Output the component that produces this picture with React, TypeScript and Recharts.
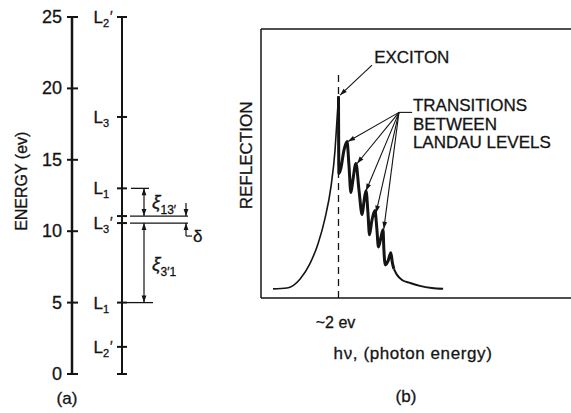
import React from 'react';
import {
  ComposedChart,
  LineChart,
  Line,
  Scatter,
  XAxis,
  YAxis,
  ReferenceLine,
  ReferenceDot,
} from 'recharts';

const FONT = '"Liberation Sans", Arial, sans-serif';
const INK = '#141414';

// (a) energy levels at L, in eV
const energyTicks = [0, 5, 10, 15, 20, 25];
const levelEnergies = [25, 18, 13, 11.06, 10.57, 5, 1.9, 0];
const levelLabels = ["L2'", 'L3', 'L1', '', "L3'", 'L1', "L2'", ''];
const gap13 = [13, 11.06];
const gap31 = [10.57, 5];

// (b) reflection against photon energy, arbitrary units (~2 ev sits at x = 2)
const riseX = [0.31, 0.67, 1.01, 1.26, 1.47, 1.65, 1.81, 1.91, 1.96, 2.0];
const riseY = [0.034, 0.037, 0.071, 0.127, 0.201, 0.295, 0.418, 0.549, 0.66, 0.75];
const wiggleX = [2.0, 2.01, 2.06, 2.14, 2.22, 2.27, 2.32, 2.37, 2.45, 2.53, 2.61, 2.66, 2.71, 2.76, 2.8, 2.86, 2.94, 2.99, 3.03, 3.1, 3.15, 3.17, 3.21, 3.28, 3.35, 3.39, 3.43];
const wiggleY = [0.75, 0.463, 0.481, 0.549, 0.582, 0.493, 0.392, 0.437, 0.5, 0.399, 0.31, 0.362, 0.399, 0.317, 0.235, 0.287, 0.325, 0.257, 0.19, 0.228, 0.254, 0.183, 0.123, 0.138, 0.168, 0.131, 0.108];
const tailX = [3.43, 3.51, 3.64, 3.85, 4.1, 4.41, 4.7];
const tailY = [0.108, 0.086, 0.067, 0.056, 0.045, 0.037, 0.034];
const photonTicks = [2];
const excitonTip = { x: 2.04, y: 0.754 };
const landauTipX = [2.245, 2.48, 2.71, 2.97, 3.17];
const landauTipY = [0.582, 0.5, 0.399, 0.317, 0.257];
const landauText = ['TRANSITIONS', 'BETWEEN', 'LANDAU LEVELS'];

const toPts = (xs: number[], ys: number[]) => xs.map((x, i) => ({ x, y: ys[i] }));
const rise = toPts(riseX, riseY);
const wiggle = toPts(wiggleX, wiggleY);
const tail = toPts(tailX, tailY);

// layout of the schematic in panel (a), x units = px right of the energy axis
const LADDER = 50;
const GAP_X = 72;
const SIDE_X = 114;

const levels = levelEnergies.map((e, i) => ({ x: LADDER, y: e, label: levelLabels[i] }));

function head(tx: number, ty: number, fx: number, fy: number, len = 7, half = 2.4) {
  const d = Math.hypot(tx - fx, ty - fy) || 1;
  const ux = (tx - fx) / d;
  const uy = (ty - fy) / d;
  const bx = tx - ux * len;
  const by = ty - uy * len;
  return (
    <polygon
      points={`${tx},${ty} ${bx - uy * half},${by + ux * half} ${bx + uy * half},${by - ux * half}`}
      fill={INK}
    />
  );
}

const arrow = (both = false, w = 1.2) => (p: any) => (
  <g>
    <line x1={p.x1} y1={p.y1} x2={p.x2} y2={p.y2} stroke={INK} strokeWidth={w} />
    {head(p.x2, p.y2, p.x1, p.y1)}
    {both && head(p.x1, p.y1, p.x2, p.y2)}
  </g>
);

const txt = { fontFamily: FONT, fill: INK, stroke: INK, strokeWidth: 0.3 };

function EnergyTick(props: any) {
  const { x, y, payload } = props;
  return (
    <g>
      <line x1={x - 5} x2={x + 6} y1={y} y2={y} stroke={INK} strokeWidth={2} />
      <text x={x - 10} y={y + 6} textAnchor="end" fontSize={18} {...txt}>
        {payload.value}
      </text>
    </g>
  );
}

function energyLabel(props: any) {
  const { x, y, width, height } = props.viewBox;
  const cy = y + height * 0.46;
  return (
    <g>
      <text x={22} y={cy} transform={`rotate(-90 22 ${cy})`} textAnchor="middle" dominantBaseline="central" fontSize={16} {...txt}>
        ENERGY (ev)
      </text>
      <text x={x + width - 5} y={y + height + 30} textAnchor="middle" fontSize={17} {...txt}>
        (a)
      </text>
    </g>
  );
}

// level tick on the ladder plus its L label
function LevelMark(p: any) {
  const { cx, cy, payload } = p;
  const label: string = payload.label;
  const prime = label.endsWith("'");
  return (
    <g>
      <line x1={cx - 5} x2={cx + 5} y1={cy} y2={cy} stroke={INK} strokeWidth={2} />
      {label && (
        <text x={cx - 13} y={cy + 6} textAnchor="end" fontSize={17} {...txt}>
          L<tspan fontSize={11} dy={4}>{label[1]}</tspan>
        </text>
      )}
      {prime && (
        <text x={cx - 12} y={cy + 4} fontSize={14} {...txt}>
          ′
        </text>
      )}
    </g>
  );
}

function PhotonTick(props: any) {
  const { x, y } = props;
  return (
    <text x={x - 3} y={y + 30} textAnchor="middle" fontSize={16} {...txt}>
      ~2 ev
    </text>
  );
}

function photonLabel(props: any) {
  const { x, y } = props.viewBox;
  return (
    <g>
      <text x={x + 152} y={y + 61} textAnchor="middle" fontSize={17} letterSpacing={0.6} {...txt}>
        hν, (photon energy)
      </text>
      <text x={x + 145} y={y + 104} textAnchor="middle" fontSize={17} {...txt}>
        (b)
      </text>
    </g>
  );
}

function reflectionLabel(props: any) {
  const { x, y, width, height } = props.viewBox;
  const cx = x + width - 14;
  const cy = y + height * 0.47;
  return (
    <text x={cx} y={cy} transform={`rotate(-90 ${cx} ${cy})`} textAnchor="middle" dominantBaseline="central" fontSize={17} {...txt}>
      REFLECTION
    </text>
  );
}

export default function App() {
  return (
    <div style={{ position: 'absolute', left: 0, top: 0, width: 571, height: 413, background: '#fff' }}>
      <div style={{ position: 'absolute', left: 0, top: 0 }}>
        <ComposedChart width={210} height={413} data={levels} margin={{ top: 17, right: 8, bottom: 39, left: 0 }}>
          <XAxis type="number" dataKey="x" domain={[0, 130]} hide />
          <YAxis
            type="number"
            dataKey="y"
            domain={[0, 25]}
            ticks={energyTicks}
            interval={0}
            width={72}
            tickSize={0}
            tickMargin={0}
            tickLine={false}
            axisLine={{ stroke: INK, strokeWidth: 2.5 }}
            tick={EnergyTick}
            label={energyLabel}
          />
          <ReferenceLine segment={[{ x: LADDER, y: 0 }, { x: LADDER, y: 25 }]} stroke={INK} strokeWidth={2} />
          <Scatter data={levels} dataKey="y" shape={LevelMark} isAnimationActive={false} />
          <ReferenceLine segment={[{ x: 59, y: gap13[0] }, { x: 77, y: gap13[0] }]} stroke={INK} strokeWidth={1.3} />
          <ReferenceLine segment={[{ x: 58, y: gap13[1] }, { x: 116, y: gap13[1] }]} stroke={INK} strokeWidth={1.3} />
          <ReferenceLine segment={[{ x: 58, y: gap31[0] }, { x: 116, y: gap31[0] }]} stroke={INK} strokeWidth={1.3} />
          <ReferenceLine segment={[{ x: 55, y: gap31[1] }, { x: 81, y: gap31[1] }]} stroke={INK} strokeWidth={1.3} />
          <ReferenceLine segment={[{ x: GAP_X, y: gap13[0] }, { x: GAP_X, y: gap13[1] }]} shape={arrow(true)} />
          <ReferenceLine segment={[{ x: GAP_X, y: gap31[0] }, { x: GAP_X, y: gap31[1] }]} shape={arrow(true)} />
          <ReferenceLine segment={[{ x: SIDE_X, y: 11.97 }, { x: SIDE_X, y: gap13[1] }]} shape={arrow(false)} />
          <ReferenceLine segment={[{ x: SIDE_X, y: 9.66 }, { x: SIDE_X, y: gap31[0] }]} shape={arrow(false)} />
          <ReferenceLine segment={[{ x: SIDE_X, y: 9.66 }, { x: SIDE_X + 6, y: 9.66 }]} stroke={INK} strokeWidth={1.2} />
          <ReferenceDot
            x={80}
            y={12.05}
            r={0}
            shape={(p: any) => (
              <text x={p.cx} y={p.cy + 6} fontSize={19} fontStyle="italic" {...txt}>
                ξ<tspan fontSize={12} fontStyle="normal" dy={6}>13′</tspan>
              </text>
            )}
          />
          <ReferenceDot
            x={80}
            y={7.7}
            r={0}
            shape={(p: any) => (
              <text x={p.cx} y={p.cy + 6} fontSize={19} fontStyle="italic" {...txt}>
                ξ<tspan fontSize={12} fontStyle="normal" dy={6}>3′1</tspan>
              </text>
            )}
          />
          <ReferenceDot
            x={SIDE_X + 6}
            y={9.66}
            r={0}
            shape={(p: any) => (
              <text x={p.cx + 1} y={p.cy + 6} fontSize={17} {...txt}>
                δ
              </text>
            )}
          />
        </ComposedChart>
      </div>
      <div style={{ position: 'absolute', left: 200, top: 0 }}>
        <LineChart width={371} height={413} margin={{ top: 29, right: 0, bottom: 0, left: 0 }}>
          <XAxis
            type="number"
            dataKey="x"
            domain={[0, 8]}
            ticks={photonTicks}
            height={115}
            tickSize={0}
            tickMargin={0}
            tickLine={false}
            axisLine={{ stroke: INK, strokeWidth: 1.5 }}
            tick={PhotonTick}
            label={photonLabel}
          />
          <YAxis
            type="number"
            dataKey="y"
            domain={[0, 1]}
            width={61}
            tick={false}
            tickLine={false}
            axisLine={{ stroke: INK, strokeWidth: 1.5 }}
            label={reflectionLabel}
          />
          <ReferenceLine y={1} stroke={INK} strokeWidth={1.5} />
          <ReferenceLine segment={[{ x: 2, y: 0 }, { x: 2, y: 0.84 }]} stroke={INK} strokeWidth={1.3} strokeDasharray="7 5" />
          <Line data={rise} dataKey="y" type="monotone" stroke={INK} strokeWidth={1.6} dot={false} isAnimationActive={false} />
          <Line data={wiggle} dataKey="y" type="monotone" stroke={INK} strokeWidth={3} dot={false} isAnimationActive={false} />
          <Line data={tail} dataKey="y" type="monotone" stroke={INK} strokeWidth={2} dot={false} isAnimationActive={false} />
          <ReferenceLine segment={[{ x: 2.865, y: 0.866 }, excitonTip]} shape={arrow(false, 1.1)} />
          <ReferenceLine segment={[{ x: 3.56, y: 0.69 }, { x: 3.9, y: 0.69 }]} stroke={INK} strokeWidth={1.1} />
          {landauTipX.map((x, i) => (
            <ReferenceLine key={`a${i}`} segment={[{ x: 3.56, y: 0.69 }, { x, y: landauTipY[i] }]} shape={arrow(false, 1.1)} />
          ))}
          <ReferenceDot
            x={2.92}
            y={0.873}
            r={0}
            shape={(p: any) => (
              <text x={p.cx} y={p.cy} fontSize={17} {...txt}>
                EXCITON
              </text>
            )}
          />
          {landauText.map((t, i) => (
            <ReferenceDot
              key={`w${i}`}
              x={3.92}
              y={0.694 - i * 0.069}
              r={0}
              shape={(p: any) => (
                <text x={p.cx} y={p.cy} fontSize={17} {...txt}>
                  {t}
                </text>
              )}
            />
          ))}
        </LineChart>
      </div>
    </div>
  );
}
